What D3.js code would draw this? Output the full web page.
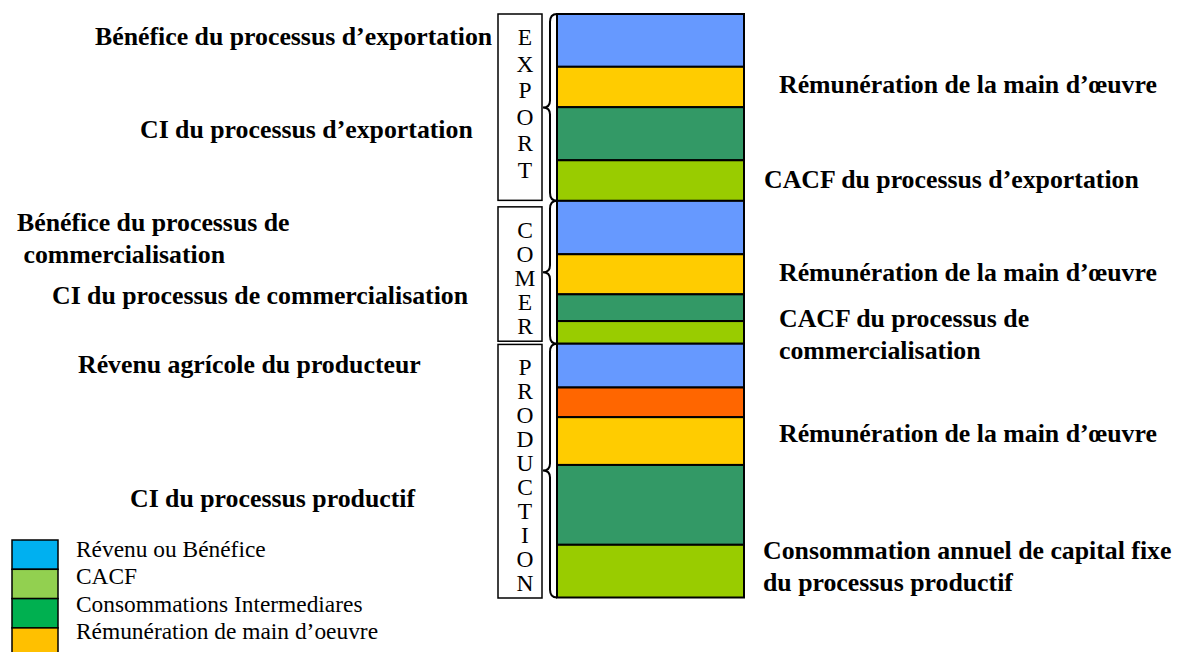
<!DOCTYPE html>
<html>
<head>
<meta charset="utf-8">
<script src="https://cdn.jsdelivr.net/npm/d3@7"></script>
<style>
  html, body { margin: 0; padding: 0; background: #fff; }
  svg { display: block; }
  text { font-family: "Liberation Serif", "Times New Roman", serif; fill: #000; }
</style>
</head>
<body>
<svg id="chart" width="1178" height="652"></svg>
<script>
// ---------- DATA ----------
const stages = ["EXPORT", "COMER", "PRODUCTION"];
const stageLetters = ["EXPORT", "COMER", "PRODUCTION"];

// component types for each stage (top to bottom)
const exportTypes = ["benefice", "remuneration", "ci", "cacf"];
const comerTypes = ["benefice", "remuneration", "ci", "cacf"];
const productionTypes = ["benefice", "autre", "remuneration", "ci", "cacf"];

// estimated values (relative units)
const exportValues = [52.7, 40.3, 53.0, 40.5];
const comerValues = [53.3, 40.0, 26.7, 22.6];
const productionValues = [43.7, 29.6, 47.7, 79.7, 52.6];

const componentTypes = ["benefice", "remuneration", "ci", "cacf", "autre"];
const componentColors = ["#6699FF", "#FFCC00", "#339966", "#99CC00", "#FF6600"];

const legendLabels = ["Révenu ou Bénéfice", "CACF", "Consommations Intermediares", "Rémunération de main d’oeuvre"];
const legendColors = ["#00B0F0", "#92D050", "#00B050", "#FFC000"];

// annotation texts: [stage index, segment index, side, lines]
const annotations = [
  [0, 0, "left",  ["Bénéfice du processus d’exportation"]],
  [0, 2, "left",  ["CI du processus d’exportation"]],
  [1, 0, "left",  ["Bénéfice du processus de", " commercialisation"]],
  [1, 2, "left",  ["CI du processus de commercialisation"]],
  [2, 0, "left",  ["Révenu agrícole du producteur"]],
  [2, 3, "left",  ["CI du processus productif"]],
  [0, 1, "right", ["Rémunération de la main d’œuvre"]],
  [0, 3, "right", ["CACF du processus d’exportation"]],
  [1, 1, "right", ["Rémunération de la main d’œuvre"]],
  [1, 3, "right", ["CACF du processus de", "commercialisation"]],
  [2, 2, "right", ["Rémunération de la main d’œuvre"]],
  [2, 4, "right", ["Consommation annuel de capital fixe", "du processus productif"]]
];

// ---------- LAYOUT (not data) ----------
const annotationX = [95, 140, 17, 52, 78, 130, 779, 764, 779, 779, 779, 763];
const annotationDy = [-4, -4.5, 10, -13, -2, -7, -3, -2, -2, 2, -8, -5.5];

// ---------- BUILD ----------
const stageValues = [exportValues, comerValues, productionValues];
const stageTypes = [exportTypes, comerTypes, productionTypes];

const segments = [];
let cum = 0;
const stageExtents = [];
stageValues.forEach((vals, si) => {
  const start = cum;
  vals.forEach((v, j) => {
    segments.push({ stage: si, idx: j, type: stageTypes[si][j], y0: cum, y1: cum + v });
    cum += v;
  });
  stageExtents.push([start, cum]);
});
const total = cum;

const svg = d3.select("#chart");
const barX = 557, barW = 187, barTop = 14, barBottom = 597.5;

const y = d3.scaleLinear().domain([0, total]).range([barTop, barBottom]);
const color = d3.scaleOrdinal().domain(componentTypes).range(componentColors);

// bar segments
svg.append("g").selectAll("rect").data(segments).join("rect")
  .attr("x", barX)
  .attr("y", d => y(d.y0))
  .attr("width", barW)
  .attr("height", d => y(d.y1) - y(d.y0))
  .attr("fill", d => color(d.type))
  .attr("stroke", "#000")
  .attr("stroke-width", 2);

// stage boxes with vertical letters
const boxX = 498, boxW = 44;
const boxInsets = [[0, 0.5], [6, 2.5], [0.7, -0.5]];
const stageG = svg.append("g").selectAll("g").data(stages).join("g");
stageG.append("rect")
  .attr("x", boxX)
  .attr("y", (d, i) => y(stageExtents[i][0]) + boxInsets[i][0])
  .attr("width", boxW)
  .attr("height", (d, i) => y(stageExtents[i][1]) - y(stageExtents[i][0]) - boxInsets[i][0] - boxInsets[i][1])
  .attr("fill", "#fff")
  .attr("stroke", "#000")
  .attr("stroke-width", 1.5);
stageG.each(function (d, i) {
  const t0 = y(stageExtents[i][0]) + boxInsets[i][0];
  const h = y(stageExtents[i][1]) - y(stageExtents[i][0]) - boxInsets[i][0] - boxInsets[i][1];
  const letters = stageLetters[i].split("");
  const step = Math.min(26.5, (h - 14) / letters.length);
  d3.select(this).selectAll("text").data(letters).join("text")
    .attr("x", boxX + boxW / 2 + 5)
    .attr("y", (c, k) => t0 + 23 + k * step)
    .attr("text-anchor", "middle")
    .attr("dominant-baseline", "central")
    .attr("font-size", 23.5)
    .text(c => c);
});

// braces
const braceSpine = 550, braceTip = 543, braceEnd = 557;
svg.append("g").selectAll("path").data(stageExtents).join("path")
  .attr("d", e => {
    const a = y(e[0]), b = y(e[1]), m = (a + b) / 2;
    const p = d3.path();
    p.moveTo(braceEnd, a);
    p.quadraticCurveTo(braceSpine, a, braceSpine, a + 8);
    p.lineTo(braceSpine, m - 7);
    p.quadraticCurveTo(braceSpine, m, braceTip, m);
    p.quadraticCurveTo(braceSpine, m, braceSpine, m + 7);
    p.lineTo(braceSpine, b - 8);
    p.quadraticCurveTo(braceSpine, b, braceEnd, b);
    return p.toString();
  })
  .attr("fill", "none")
  .attr("stroke", "#000")
  .attr("stroke-width", 2);

// annotations
const fs = 25.8, lh = 32;
const annG = svg.append("g");
annotations.forEach((a, i) => {
  const [si, j, side, lines] = a;
  const seg = segments.find(s => s.stage === si && s.idx === j);
  const mid = (y(seg.y0) + y(seg.y1)) / 2;
  const first = mid - (lines.length - 1) * lh / 2 + 0.35 * fs + annotationDy[i];
  const t = annG.append("text")
    .attr("font-size", fs)
    .attr("font-weight", "bold")
    .style("white-space", "pre");
  lines.forEach((ln, k) => {
    t.append("tspan")
      .attr("x", annotationX[i])
      .attr("y", first + k * lh)
      .text(ln);
  });
});

// legend
const legX = 12, legY = 540, legW = 46, legH = 29.3;
const leg = svg.append("g");
leg.selectAll("rect").data(legendColors).join("rect")
  .attr("x", legX)
  .attr("y", (d, i) => legY + i * legH)
  .attr("width", legW)
  .attr("height", legH)
  .attr("fill", d => d)
  .attr("stroke", "#000")
  .attr("stroke-width", 1.5);
leg.selectAll("text").data(legendLabels).join("text")
  .attr("x", 76)
  .attr("y", (d, i) => legY + 17 + i * 27.3)
  .attr("font-size", 23.4)
  .text(d => d);
</script>
</body>
</html>
